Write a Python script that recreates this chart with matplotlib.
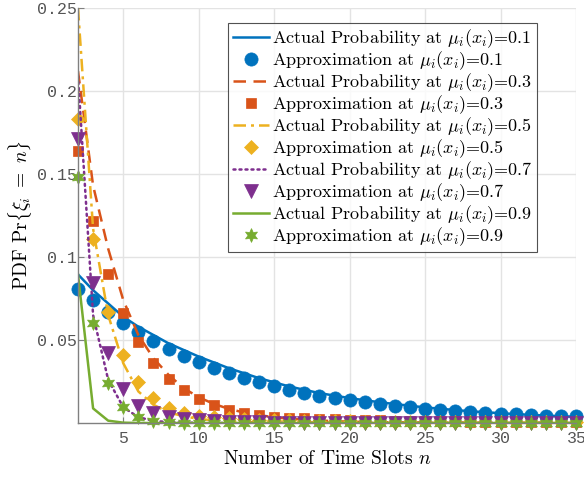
import numpy as np
import matplotlib
matplotlib.use('Agg')
import matplotlib.pyplot as plt

plt.rcParams['font.family'] = 'serif'
plt.rcParams['font.serif'] = ['cmr10']
plt.rcParams['mathtext.fontset'] = 'cm'
plt.rcParams['axes.formatter.use_mathtext'] = True

# Numero de slots de tiempo
n = np.arange(2, 36)

# mu_i(x_i) = 0.1
actual_01 = [0.0895, 0.080, 0.072, 0.064, 0.058, 0.053, 0.048, 0.044, 0.040, 0.0365,
             0.033, 0.030, 0.027, 0.0245, 0.022, 0.020, 0.018, 0.0165, 0.015, 0.0137,
             0.0125, 0.0114, 0.0104, 0.0094, 0.0086, 0.0078, 0.0071, 0.0065, 0.0059, 0.0054,
             0.0049, 0.0045, 0.0041, 0.0037]
approx_01 = [0.081, 0.074, 0.067, 0.060, 0.055, 0.0495, 0.0445, 0.0405, 0.037, 0.033,
             0.030, 0.027, 0.0245, 0.022, 0.020, 0.018, 0.0165, 0.015, 0.0138, 0.0125,
             0.0114, 0.0104, 0.0094, 0.0086, 0.0078, 0.0072, 0.0066, 0.0061, 0.0056, 0.0052,
             0.0048, 0.0045, 0.0042, 0.0040]

# mu_i(x_i) = 0.3
actual_03 = [0.212, 0.143, 0.105, 0.074, 0.053, 0.039, 0.029, 0.021, 0.0155, 0.0115,
             0.0085, 0.0063, 0.0047, 0.0035, 0.0026, 0.0020, 0.0015, 0.0011, 0.0008, 0.0006,
             0.0005, 0.0004, 0.0003, 0.0003, 0.0002, 0.0002, 0.0002, 0.0001, 0.0001, 0.0001,
             0.0001, 0.0001, 0.0001, 0.0001]
approx_03 = [0.164, 0.1216, 0.0895, 0.066, 0.049, 0.036, 0.0265, 0.0199, 0.0144, 0.0108,
             0.0078, 0.0058, 0.0046, 0.0038, 0.0032, 0.0028, 0.0026, 0.0023, 0.0021, 0.0019,
             0.0017, 0.0015, 0.0013, 0.0012, 0.0011, 0.0010, 0.0009, 0.0008, 0.0008, 0.0007,
             0.0007, 0.0006, 0.0006, 0.0005]

# mu_i(x_i) = 0.5
actual_05 = [0.250, 0.117, 0.065, 0.036, 0.019, 0.011, 0.0065, 0.0040, 0.0025, 0.0015,
             0.0010, 0.0006, 0.0004, 0.0003, 0.0002, 0.0001, 0.0001, 0.0001, 0.0, 0.0,
             0.0, 0.0, 0.0, 0.0, 0.0, 0.0, 0.0, 0.0, 0.0, 0.0,
             0.0, 0.0, 0.0, 0.0]
approx_05 = [0.1834, 0.111, 0.0668, 0.041, 0.0249, 0.0153, 0.0093, 0.0058, 0.0045, 0.0036,
             0.0030, 0.0025, 0.0021, 0.0018, 0.0016, 0.0014, 0.0012, 0.0011, 0.0010, 0.0009,
             0.0008, 0.0008, 0.0007, 0.0007, 0.0006, 0.0006, 0.0006, 0.0005, 0.0005, 0.0005,
             0.0005, 0.0005, 0.0005, 0.0005]

# mu_i(x_i) = 0.7
actual_07 = [0.209, 0.065, 0.026, 0.0095, 0.0035, 0.0013, 0.0005, 0.0002, 0.0001, 0.0,
             0.0, 0.0, 0.0, 0.0, 0.0, 0.0, 0.0, 0.0, 0.0, 0.0,
             0.0, 0.0, 0.0, 0.0, 0.0, 0.0, 0.0, 0.0, 0.0, 0.0,
             0.0, 0.0, 0.0, 0.0]
approx_07 = [0.171, 0.0846, 0.042, 0.0203, 0.0102, 0.0058, 0.0038, 0.0024, 0.0016, 0.0010,
             0.0007, 0.0005, 0.0004, 0.0003, 0.0003, 0.0002, 0.0002, 0.0002, 0.0001, 0.0001,
             0.0001, 0.0001, 0.0001, 0.0001, 0.0001, 0.0001, 0.0001, 0.0001, 0.0001, 0.0001,
             0.0001, 0.0001, 0.0001, 0.0001]

# mu_i(x_i) = 0.9
actual_09 = [0.0895, 0.0088, 0.0014, 0.0002, 0.0, 0.0, 0.0, 0.0, 0.0, 0.0,
             0.0, 0.0, 0.0, 0.0, 0.0, 0.0, 0.0, 0.0, 0.0, 0.0,
             0.0, 0.0, 0.0, 0.0, 0.0, 0.0, 0.0, 0.0, 0.0, 0.0,
             0.0, 0.0, 0.0, 0.0]
approx_09 = [0.148, 0.060, 0.0243, 0.0098, 0.0038, 0.0014, 0.0006, 0.0002, 0.0001, 0.0,
             0.0, 0.0, 0.0, 0.0, 0.0, 0.0, 0.0, 0.0, 0.0, 0.0,
             0.0, 0.0, 0.0, 0.0, 0.0, 0.0, 0.0, 0.0, 0.0, 0.0,
             0.0, 0.0, 0.0, 0.0]

mus = ['0.1', '0.3', '0.5', '0.7', '0.9']
actuals = [actual_01, actual_03, actual_05, actual_07, actual_09]
approxs = [approx_01, approx_03, approx_05, approx_07, approx_09]
colors = ['#0072BD', '#D95319', '#EDB120', '#7E2F8E', '#77AC30']
dashes = [None, (5, 3), (5, 2, 1.2, 2), (0.8, 1.6), None]
markers = ['o', 's', 'D', 'v', (6, 1, 0)]
msizes = [9.5, 7.5, 7.2, 9.5, 10]

fig = plt.figure(figsize=(5.84, 4.78), dpi=100)
ax = fig.add_axes([78 / 584, 1 - 423 / 478, (576 - 78) / 584, (423 - 8) / 478])

for mu, act, apx, c, d, m, ms in zip(mus, actuals, approxs, colors, dashes, markers, msizes):
    line, = ax.plot(n, act, color=c, lw=1.8,
                    label=r'Actual Probability at $\mu_i(x_i)$=' + mu)
    if d is not None:
        line.set_dashes(d)
        if d == (0.8, 1.6):
            line.set_dash_capstyle('round')
    ax.plot(n, apx, linestyle='none', marker=m, markersize=ms, color=c,
            markeredgecolor=c, markeredgewidth=0.5, clip_on=False,
            label=r'Approximation at $\mu_i(x_i)$=' + mu)

ax.set_xlim(2, 35)
ax.set_ylim(0, 0.25)
ax.set_xticks([5, 10, 15, 20, 25, 30, 35])
ax.set_yticks([0.05, 0.1, 0.15, 0.2, 0.25])
ax.set_yticklabels(['0.05', '0.1', '0.15', '0.2', '0.25'])
ax.grid(True, color='#e3e3e3', lw=1.0)
ax.set_axisbelow(True)
for s in ['top', 'right']:
    ax.spines[s].set_visible(False)
for s in ['left', 'bottom']:
    ax.spines[s].set_color('#808080')
    ax.spines[s].set_linewidth(1.0)
ax.tick_params(direction='in', length=4, color='#808080', labelcolor='#555555')
ax.tick_params(axis='x', pad=6)
ax.tick_params(axis='y', pad=1)
for lab in ax.get_xticklabels() + ax.get_yticklabels():
    lab.set_fontfamily('Liberation Mono')
    lab.set_fontsize(12)

ax.set_xlabel(r'Number of Time Slots $n$', fontsize=14, labelpad=3)
ax.set_ylabel(r'PDF Pr$\{\xi_i\ =\ n\}$', fontsize=14, labelpad=2)

leg = ax.legend(loc='upper right', bbox_to_anchor=((536.7 - 78) / 498, (423 - 22.7) / 415),
                borderaxespad=0, fontsize=13, frameon=True, fancybox=False,
                handlelength=2.0, handletextpad=0.15, labelspacing=-0.04,
                borderpad=0.25, edgecolor='#262626')
leg.get_frame().set_linewidth(0.8)

plt.savefig('out.png', dpi=100)
